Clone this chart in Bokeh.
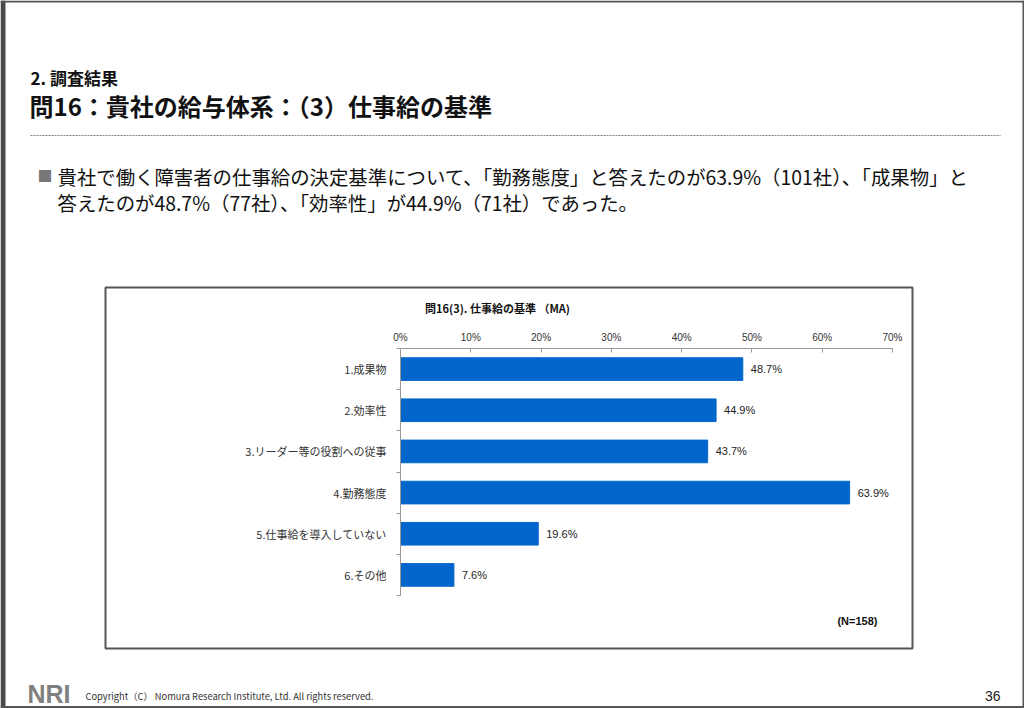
from bokeh.plotting import figure
from bokeh.models import (Label, LabelSet, BoxAnnotation, Range1d, FixedTicker,
                          PrintfTickFormatter, ColumnDataSource, LinearAxis)
from bokeh.core.properties import value
from bokeh.embed import file_html
from bokeh.resources import INLINE

# ---- data ----
categories = ["1.成果物", "2.効率性", "3.リーダー等の役割への従事", "4.勤務態度",
              "5.仕事給を導入していない", "6.その他"]
values = [48.7, 44.9, 43.7, 63.9, 19.6, 7.6]
x_ticks = [0, 10, 20, 30, 40, 50, 60, 70]

chart_title = "問16(3). 仕事給の基準 （MA)"
n_note = "(N=158)"
section = "2. 調査結果"
heading = "問16：貴社の給与体系：（3）仕事給の基準"
body1 = "貴社で働く障害者の仕事給の決定基準について、「勤務態度」と答えたのが63.9%（101社）、「成果物」と"
body2 = "答えたのが48.7%（77社）、「効率性」が44.9%（71社）であった。"
footer = "Copyright（C） Nomura Research Institute, Ltd. All rights reserved."
page_no = "36"

JP = "Noto Sans CJK JP"
W, H = 1024, 708

# pixel anchors of the plotting area inside the slide
PX_L, PX_R, PX_T, PX_B = 400, 892, 348, 595
X0, X1 = 0, 70
n = len(categories)
sx = (PX_R - PX_L) / (X1 - X0)
sy = (PX_B - PX_T) / n

idx = list(range(1, n + 1))
src = ColumnDataSource(dict(y=idx, v=values, lab=[f"{v:.1f}%" for v in values]))

p = figure(width=W, height=H,
           x_range=Range1d(X0 - PX_L / sx, X1 + (W - PX_R) / sx),
           y_range=Range1d(0.5 + (H - PX_T) / sy, 0.5 - PX_T / sy),
           x_axis_location=None, y_axis_location=None,
           output_backend="svg", toolbar_location=None, min_border=0)
p.outline_line_color = None
p.grid.visible = False
p.background_fill_color = "white"
p.border_fill_color = "white"

p.hbar(y="y", left=0, right="v", height=0.55, source=src,
       fill_color="#0066CC", line_color="#0066CC")

p.add_layout(LabelSet(x="v", y="y", text="lab", source=src, x_offset=8,
                      text_baseline="middle", text_font_size=value("11px"),
                      text_font=value("Liberation Sans"), text_color="#222222"))

# x axis (top), fixed at the top edge of the category area
xa = LinearAxis(fixed_location=0.5, bounds=(X0, X1))
xa.ticker = FixedTicker(ticks=x_ticks)
xa.formatter = PrintfTickFormatter(format="%d%%")
xa.major_tick_in = 4
xa.major_tick_out = 0
xa.minor_tick_line_color = None
xa.axis_line_color = "#999999"
xa.major_tick_line_color = "#999999"
xa.major_label_text_font = "Liberation Sans"
xa.major_label_text_font_size = "10px"
xa.major_label_text_color = "#333333"
xa.major_label_standoff = 6
p.add_layout(xa, "above")

# y axis (left), fixed at x = 0
ya = LinearAxis(fixed_location=0, bounds=(0.5, n + 0.5))
ya.ticker = FixedTicker(ticks=idx, minor_ticks=[i - 0.5 for i in idx] + [n + 0.5])
ya.major_label_overrides = {i: c for i, c in zip(idx, categories)}
ya.major_tick_in = 0
ya.major_tick_out = 0
ya.minor_tick_in = 0
ya.minor_tick_out = 4
ya.axis_line_color = "#999999"
ya.minor_tick_line_color = "#999999"
ya.major_label_text_font = JP
ya.major_label_text_font_size = "11px"
ya.major_label_text_color = "#333333"
ya.major_label_standoff = 10
p.add_layout(ya, "left")


def lab(x, y, text, size, font=JP, style="normal", color="#111111", align="left"):
    p.add_layout(Label(x=x, y=y, x_units="canvas", y_units="canvas",
                       text=text, text_font=font, text_font_size=size,
                       text_font_style=style, text_color=color,
                       text_align=align, text_baseline="middle"))


def box(l, t, r, b, color, width, dash="solid"):
    p.add_layout(BoxAnnotation(left=l, right=r, top=t, bottom=b,
                               left_units="canvas", right_units="canvas",
                               top_units="canvas", bottom_units="canvas",
                               fill_color=None, fill_alpha=0, line_color=color,
                               line_alpha=1, line_width=width, line_dash=dash))


def fill(l, t, r, b, color):
    p.add_layout(BoxAnnotation(left=l, right=r, top=t, bottom=b,
                               left_units="canvas", right_units="canvas",
                               top_units="canvas", bottom_units="canvas",
                               fill_color=color, fill_alpha=1, line_color=None))


# slide frame (dark edges)
fill(0, 0, 5, H, "#4a4a4a")
fill(0, 0, W, 2, "#555555")
fill(W - 2, 0, W, H, "#555555")
fill(0, H - 2.5, W, H, "#555555")
# chart box, dotted rule
box(105, 287, 912, 648, "#555555", 2)
box(30, 135, 1000, 135, "#808080", 1.2, "2 1")

# slide texts
lab(30, 77, section, "17px", style="bold")
lab(29, 105, heading, "24px", style="bold")
lab(37, 175, "■", "15px", color="#777777")
lab(57, 176, body1, "19.4px")
lab(57, 202, body2, "19.4px")
lab(497, 307, chart_title, "11px", style="bold", align="center")
lab(877, 620, n_note, "11px", font="Liberation Sans", style="bold", align="right")
lab(27, 693, "NRI", "25px", font="Liberation Sans", style="bold", color="#808080")
lab(85, 695, footer, "9.3px", color="#333333")
lab(1000, 695, page_no, "14px", font="Liberation Sans", color="#222222", align="right")

open("out.html", "w").write(file_html(p, INLINE))
